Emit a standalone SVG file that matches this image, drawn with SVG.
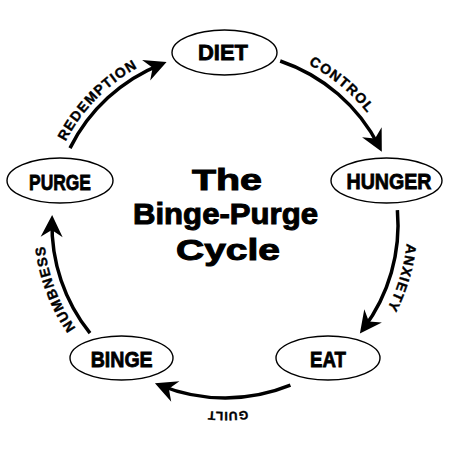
<svg xmlns="http://www.w3.org/2000/svg" width="450" height="450" viewBox="0 0 450 450">
<style>
.node ellipse{fill:#fff;stroke:#000;stroke-width:1.4}
.node text{font-family:"Liberation Sans",Arial,sans-serif;font-weight:bold;font-size:22px;text-anchor:middle;fill:#000;stroke:#000;stroke-width:0.8}
.arc{fill:none;stroke:#000;stroke-width:3.5;marker-end:url(#ah)}
.lbl{font-family:"Liberation Sans",Arial,sans-serif;font-weight:bold;font-size:14px;letter-spacing:1.2px;fill:#000;stroke:#000;stroke-width:0.4}
.title{font-family:"Liberation Sans",Arial,sans-serif;font-weight:bold;font-size:30px;text-anchor:middle;fill:#000;stroke:#000;stroke-width:1}
</style>
<defs>
<marker id="ah" markerUnits="userSpaceOnUse" orient="auto" viewBox="-25 -15 35 30" markerWidth="35" markerHeight="30" refX="0" refY="0" overflow="visible">
<path d="M6,0 L-16,-11 L-9,0 L-16,11 Z" fill="#000"/>
</marker>
<path id="pControl" d="M224.4,44 A181,181 0 0 1 403.1,192.9"/>
<path id="pAnxiety" d="M392.6,152.8 A182.5,182.5 0 0 1 325.2,377.5"/>
<path id="pGuilt" d="M347.2,366.6 A187,187 0 0 1 106.8,369.9"/>
<path id="pNumb" d="M135.6,383 A181.5,181.5 0 0 1 53.9,164.4"/>
<path id="pRedem" d="M45.5,211.2 A180,180 0 0 1 207.4,45.9"/>
</defs>
<rect width="450" height="450" fill="#fff"/>
<g id="connectors">
<path class="arc" d="M280.2,61 A173,173 0 0 1 379.1,146.5"/>
<path class="arc" d="M397.4,210.2 A173,173 0 0 1 363.5,328.6"/>
<path class="arc" d="M290.4,385.2 A173,173 0 0 1 160.5,385.5"/>
<path class="arc" d="M90,333.2 A173,173 0 0 1 52,221.1"/>
<path class="arc" d="M70,148.1 A173,173 0 0 1 161,64.3"/>
<text class="lbl"><textPath href="#pControl" startOffset="50%" text-anchor="middle">CONTROL</textPath></text>
<text class="lbl"><textPath href="#pAnxiety" startOffset="50%" text-anchor="middle">ANXIETY</textPath></text>
<text class="lbl" style="font-size:12px;letter-spacing:1px"><textPath href="#pGuilt" startOffset="50%" text-anchor="middle">GUILT</textPath></text>
<text class="lbl"><textPath href="#pNumb" startOffset="50%" text-anchor="middle">NUMBNESS</textPath></text>
<text class="lbl"><textPath href="#pRedem" startOffset="50%" text-anchor="middle">REDEMPTION</textPath></text>
</g>
<g id="diet" class="node"><ellipse cx="224.5" cy="52.5" rx="52.5" ry="22.5"/><text x="223" y="60" textLength="50" lengthAdjust="spacingAndGlyphs">DIET</text></g>
<g id="hunger" class="node"><ellipse cx="386.5" cy="180.5" rx="55.5" ry="22.5"/><text x="389" y="189" textLength="85" lengthAdjust="spacingAndGlyphs">HUNGER</text></g>
<g id="eat" class="node"><ellipse cx="328" cy="358" rx="52" ry="22"/><text x="328" y="366.5" textLength="36" lengthAdjust="spacingAndGlyphs">EAT</text></g>
<g id="binge" class="node"><ellipse cx="121.5" cy="358" rx="51.5" ry="22"/><text x="121.7" y="367" textLength="62" lengthAdjust="spacingAndGlyphs">BINGE</text></g>
<g id="purge" class="node"><ellipse cx="60" cy="180.5" rx="53" ry="22.5"/><text x="60" y="189.5" textLength="62" lengthAdjust="spacingAndGlyphs">PURGE</text></g>
<g id="title">
<text class="title" x="227" y="190" textLength="70" lengthAdjust="spacingAndGlyphs">The</text>
<text class="title" x="225.5" y="224" textLength="185" lengthAdjust="spacingAndGlyphs">Binge-Purge</text>
<text class="title" x="228" y="260" textLength="104" lengthAdjust="spacingAndGlyphs">Cycle</text>
</g>
</svg>
